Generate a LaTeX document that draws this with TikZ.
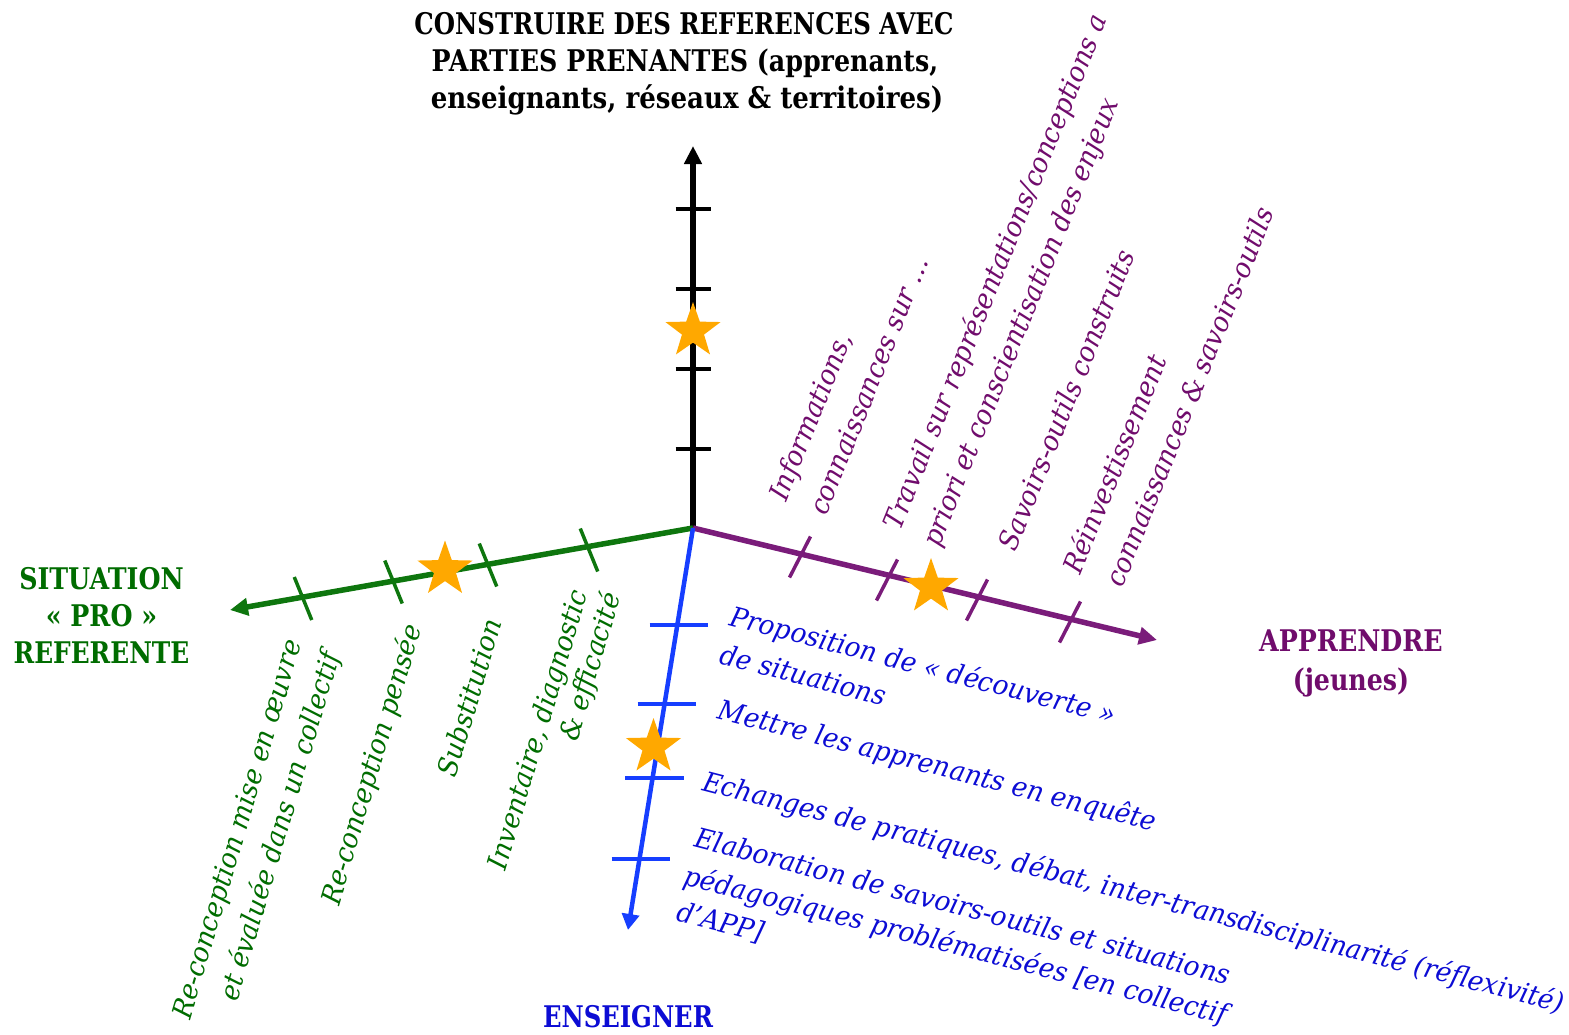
\documentclass[tikz,border=0pt]{standalone}
\usepackage{fontspec}
\usetikzlibrary{arrows.meta,shapes.geometric}
\newfontfamily\headfont[FakeStretch=0.85]{DejaVu Serif}
\newfontfamily\labfont[FakeStretch=0.95]{DejaVu Serif}
\definecolor{axgreen}{RGB}{14,118,14}
\definecolor{txtgreen}{RGB}{0,108,0}
\definecolor{axpurple}{RGB}{122,28,122}
\definecolor{txtpurple}{RGB}{112,12,108}
\definecolor{axblue}{RGB}{22,62,255}
\definecolor{txtblue}{RGB}{12,12,212}
\definecolor{starorange}{RGB}{255,168,0}
\begin{document}
\begin{tikzpicture}[x=1pt,y=-1pt,
  axisline/.style={line width=5.5pt,-{Triangle[length=18pt,width=17pt]}},
  axtick/.style={line width=3.5pt},
  head/.style={inner sep=0pt,anchor=base,font=\headfont\bfseries\fontsize{29.8}{36}\selectfont},
  lab/.style={inner sep=0pt,anchor=base west,font=\labfont\itshape\fontsize{27.5}{33}\selectfont},
  glab/.style={lab,text=txtgreen,rotate=73.5},
  plab/.style={lab,text=txtpurple,rotate=68},
  blab/.style={lab,text=txtblue,rotate=-14.5},
  prize/.style={star,star points=5,star point ratio=2.5,minimum size=58pt,inner sep=0pt,fill=starorange}
]
\useasboundingbox (0,0) rectangle (1569,1034);

% axis ends
\coordinate (O) at (693,528);
\coordinate (topEnd) at (693,146);
\coordinate (leftEnd) at (230,610);
\coordinate (rightEnd) at (1157,640);
\coordinate (downEnd) at (628,930);

% axes
\draw[axisline,black] (O) -- (topEnd);
\draw[axisline,axgreen] (O) -- (leftEnd);
\draw[axisline,axpurple] (O) -- (rightEnd);
\draw[axisline,axblue,line width=4.5pt,-{Triangle[length=16pt,width=17pt]}] (O) -- (downEnd);

% graduations
\foreach \y in {209,289,369,449}
  \draw[axtick,black,line width=3.8pt] (675.5,\y) -- (711,\y);
\foreach \x/\y in {589/550,488/565,393.5/582,303/598.5}
  \draw[axtick,axgreen] (\x-8.75,\y-21.5) -- (\x+8.75,\y+21.5);
\foreach \x/\y in {800/557,887/580,977/600,1070/622}
  \draw[axtick,axpurple] (\x+10.5,\y-20.5) -- (\x-10.5,\y+20.5);
\foreach \xa/\xb/\y in {649.5/707.5/625,637.5/695.5/704,625/683.5/777.7,611.5/669.5/858.7}
  \draw[axtick,axblue,line width=4pt] (\xa,\y) -- (\xb,\y);

% positions marked
\node[prize] (s1) at (693,331) {};
\node[prize] (s2) at (445,569.5) {};
\node[prize] (s3) at (931,587) {};
\node[prize] (s4) at (653.5,747) {};

% axis titles
\node[head] (h1) at (684,34.3) {\scalebox{0.963}[1]{CONSTRUIRE DES REFERENCES AVEC}};
\node[head] (h2) at (685,71) {PARTIES PRENANTES (apprenants,};
\node[head] (h3) at (687,108) {\scalebox{1.03}[1]{enseignants, réseaux \& territoires)}};
\node[head,text=txtgreen] (g1) at (101.5,589.3) {SITUATION};
\node[head,text=txtgreen] (g2) at (101.5,626) {« PRO »};
\node[head,text=txtgreen] (g3) at (101.5,663.3) {\scalebox{0.98}[1]{REFERENTE}};
\node[head,text=txtpurple] (p1) at (1351,651.7) {APPRENDRE};
\node[head,text=txtpurple] (p2) at (1351,690) {(jeunes)};
\node[head,text=txtblue] (b0) at (628,1027.5) {\scalebox{0.96}[1]{ENSEIGNER}};

% green labels
\node[glab] (gl1a) at (190,1021) {Re-conception mise en œuvre};
\node[glab] (gl1b) at (237,1003) {et évaluée dans un collectif};
\node[glab] (gl2) at (339,907) {Re-conception pensée};
\node[glab] (gl3) at (455.7,778.7) {Substitution};
\node[glab] (gl4a) at (505.7,871.3) {Inventaire, diagnostic};
\node[glab] (gl4b) at (577.3,743) {\& efficacité};

% purple labels
\node[plab] (pl1a) at (786,503) {Informations,};
\node[plab] (pl1b) at (826,517) {connaissances sur …};
\node[plab] (pl2a) at (900.5,532) {Travail sur représentations/conceptions a};
\node[plab] (pl2b) at (939,549) {priori et conscientisation des enjeux};
\node[plab] (pl3) at (1015.5,553) {Savoirs-outils construits};
\node[plab] (pl4a) at (1080.5,576) {Réinvestissement};
\node[plab] (pl4b) at (1122.5,589) {connaissances \& savoirs-outils};

% blue labels
\node[blab] (bl1a) at (728.3,625) {Proposition de « découverte »};
\node[blab] (bl1b) at (718.3,663.3) {de situations};
\node[blab] (bl2) at (716.7,718.3) {Mettre les apprenants en enquête};
\node[blab] (bl3) at (701,790) {Echanges de pratiques, débat, inter-transdisciplinarité (réflexivité)};
\node[blab] (bl4a) at (693.3,846.7) {Elaboration de savoirs-outils et situations};
\node[blab] (bl4b) at (682.3,884) {pédagogiques problématisées [en collectif};
\node[blab] (bl4c) at (675,920) {d’APP]};
\end{tikzpicture}
\end{document}
